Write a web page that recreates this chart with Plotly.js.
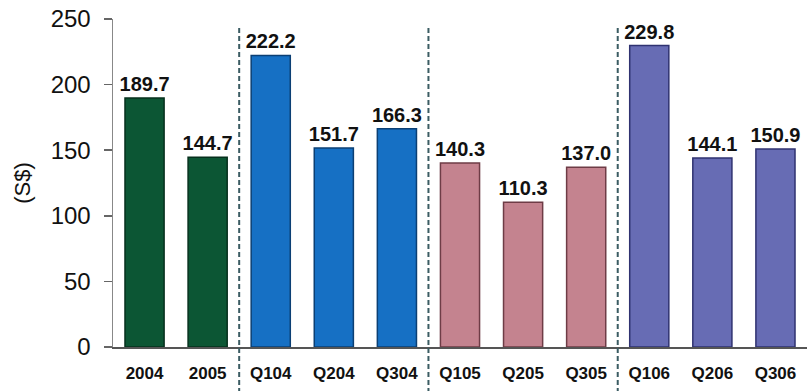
<!DOCTYPE html>
<html><head><meta charset="utf-8">
<script src="https://cdn.plot.ly/plotly-3.0.1.min.js"></script>
<style>html,body{margin:0;padding:0;background:#fff}#chart{width:807px;height:391px}</style>
</head><body><div id="chart"></div>
<script>
// Data
const categories = ["2004","2005","Q104","Q204","Q304","Q105","Q205","Q305","Q106","Q206","Q306"];
const values = [189.7,144.7,222.2,151.7,166.3,140.3,110.3,137.0,229.8,144.1,150.9];
const groupSizes = [2,3,3,3];
const groupColors = ["#0c5634","#1670c4","#c4838f","#676cb4"];
const groupEdges = ["#06301d","#0b3f74","#6e3c46","#2f3270"];
const yTicks = [0,50,100,150,200,250];

const colors = [], edges = [];
groupSizes.forEach((n,g)=>{for(let i=0;i<n;i++){colors.push(groupColors[g]);edges.push(groupEdges[g]);}});

const trace = {
  type:"bar", x:categories, y:values,
  marker:{color:colors, line:{color:edges, width:1.5}},
  width:0.62,
  text:values.map(v=>v.toFixed(1)), textposition:"outside", constraintext:"none",
  textfont:{family:"Liberation Sans, Arial, sans-serif", size:20, color:"#111", weight:"bold"},
  cliponaxis:false, hoverinfo:"skip"
};

// separators between groups
const shapes = [];
let acc = 0;
for (let g=0; g<groupSizes.length-1; g++){
  acc += groupSizes[g];
  shapes.push({type:"line", xref:"x", yref:"paper", x0:acc-0.5, x1:acc-0.5, y0:-0.14, y1:0.975,
    line:{color:"#3b5c63", width:2, dash:"5px,3px"}});
}

const layout = {
  width:807, height:391,
  margin:{l:113, r:0, t:19, b:44},
  paper_bgcolor:"#fff", plot_bgcolor:"#fff",
  showlegend:false,
  bargap:0.38,
  xaxis:{type:"category", showline:true, linecolor:"#555", linewidth:2, ticks:"", ticklabelstandoff:10,
    tickfont:{family:"Liberation Sans, Arial, sans-serif", size:17, color:"#111", weight:"bold"},
    showgrid:false, zeroline:false, fixedrange:true},
  yaxis:{range:[0,250], tickvals:yTicks, ticktext:yTicks.map(String), showline:true, linecolor:"#888", linewidth:1.5,
    ticks:"outside", ticklen:8, tickcolor:"#666", tickwidth:1.5, ticklabelstandoff:8,
    tickfont:{family:"Liberation Sans, Arial, sans-serif", size:24, color:"#111"},
    showgrid:false, zeroline:false,
    title:{text:"(S$)", font:{family:"Liberation Sans, Arial, sans-serif", size:22, color:"#111"}, standoff:14}},
  shapes:shapes,
  font:{family:"Liberation Sans, Arial, sans-serif"}
};
Plotly.newPlot("chart",[trace],layout,{staticPlot:true,displayModeBar:false});
</script></body></html>
